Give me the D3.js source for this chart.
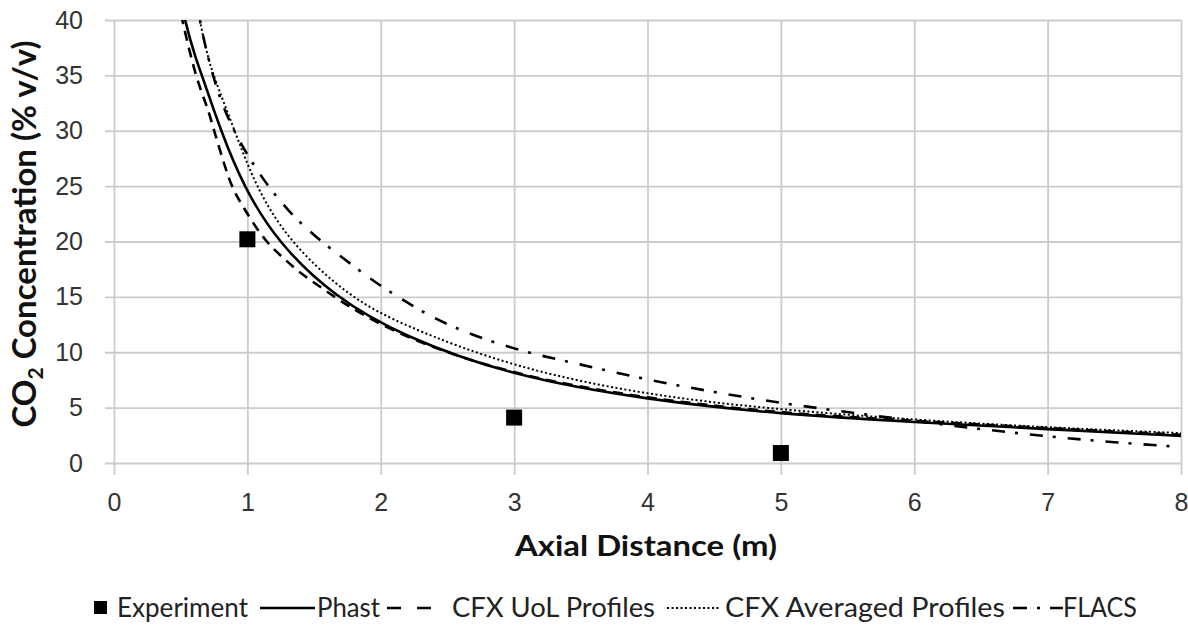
<!DOCTYPE html>
<html>
<head>
<meta charset="utf-8">
<script src="https://cdn.jsdelivr.net/npm/d3@7"></script>
<style>
  html, body { margin: 0; padding: 0; background: #fff; }
  svg { display: block; font-family: Lato, "Open Sans", sans-serif; }
</style>
</head>
<body>
<svg id="chart" width="1188" height="625"></svg>
<script>
// ---- Data ----
const xTicks = [0, 1, 2, 3, 4, 5, 6, 7, 8];
const yTicks = [0, 5, 10, 15, 20, 25, 30, 35, 40];

const experimentX = [1, 3, 5];
const experimentY = [20.2, 4.1, 0.9];

const phastX = [0.5, 0.53, 0.61, 0.66, 0.8, 0.97, 1.22, 1.65, 2.17, 3, 4, 5, 6, 7, 8];
const phastY = [42, 40, 36.6, 35, 30, 25, 20, 15, 11.4, 7.8, 5.7, 4.4, 3.7, 3.05, 2.45];

const cfxUolX = [0.48, 0.51, 0.62, 0.70, 0.75, 0.87, 0.93, 1.02, 1.13, 1.26, 1.40, 1.56, 1.72, 2.17, 3, 4, 5, 6, 7, 8];
const cfxUolY = [42, 40, 34.5, 32.2, 30, 25.2, 23.9, 22.1, 20.1, 18.6, 17.1, 15.8, 14.4, 11.3, 7.9, 5.8, 4.5, 3.8, 3.15, 2.55];

const cfxAvgX = [0.62, 0.64, 0.705, 0.745, 0.905, 1.06, 1.31, 1.76, 2.17, 3, 4, 5, 6, 7, 8];
const cfxAvgY = [42, 40, 36.6, 35, 30, 25, 20, 15, 12.4, 8.6, 6.1, 4.8, 3.9, 3.2, 2.7];

const flacsX = [0.62, 0.64, 0.72, 0.82, 0.96, 1.11, 1.30, 1.51, 1.75, 1.98, 2.25, 2.5, 3, 3.5, 4, 4.5, 5, 5.5, 6, 6.5, 7, 7.5, 8];
const flacsY = [42, 40, 35.8, 31.9, 28.6, 25.7, 22.8, 20.4, 18.2, 16.1, 14.1, 12.4, 10.2, 8.9, 7.5, 6.4, 5.4, 4.6, 3.8, 3.05, 2.4, 1.85, 1.45];

const legendLabels = ["Experiment", "Phast", "CFX UoL Profiles", "CFX Averaged Profiles", "FLACS"];

// ---- Layout ----
const svg = d3.select("#chart");
const x = d3.scaleLinear().domain([0, 8]).range([114, 1181]);
const y = d3.scaleLinear().domain([0, 40]).range([463, 20]);
const gridColor = "#cccccc";

// X axis + vertical grid
const gx = svg.append("g")
  .attr("transform", "translate(0,475)")
  .call(d3.axisBottom(x).tickValues(xTicks).tickSize(-(475 - 20)).tickSizeOuter(0).tickPadding(18).tickFormat(d3.format("d")));
gx.select(".domain").remove();
gx.selectAll(".tick line").attr("stroke", gridColor).attr("stroke-width", 1.8);
gx.selectAll(".tick text").attr("fill", "#333").attr("font-size", 25);

// Y axis + horizontal grid
const gy = svg.append("g")
  .attr("transform", "translate(105,0)")
  .call(d3.axisLeft(y).tickValues(yTicks).tickSize(-(1181 - 105)).tickSizeOuter(0).tickPadding(22).tickFormat(d3.format("d")));
gy.select(".domain").remove();
gy.selectAll(".tick line").attr("stroke", gridColor).attr("stroke-width", 1.8);
gy.selectAll(".tick text").attr("fill", "#333").attr("font-size", 25);

// Clip
svg.append("clipPath").attr("id", "plotclip")
  .append("rect").attr("x", x(0)).attr("y", y(40)).attr("width", x(8) - x(0) + 1).attr("height", y(0) - y(40) + 2);

const lineGen = d3.line().x(d => x(d[0])).y(d => y(d[1])).curve(d3.curveBasis);
const zip = (xs, ys) => xs.map((v, i) => [v, ys[i]]);

const series = [
  { xs: phastX, ys: phastY, dash: null, w: 2.6 },
  { xs: cfxUolX, ys: cfxUolY, dash: "10,7", w: 2.6 },
  { xs: cfxAvgX, ys: cfxAvgY, dash: "2,2.5", w: 2 },
  { xs: flacsX, ys: flacsY, dash: "13,10,3,12", w: 2.6 }
];
const plot = svg.append("g").attr("clip-path", "url(#plotclip)");
series.forEach(s => {
  plot.append("path")
    .datum(zip(s.xs, s.ys))
    .attr("d", lineGen)
    .attr("fill", "none")
    .attr("stroke", "#000")
    .attr("stroke-width", s.w)
    .attr("stroke-dasharray", s.dash);
});

// Experiment markers
const sq = 16;
svg.append("g").selectAll("rect")
  .data(zip(experimentX, experimentY))
  .join("rect")
  .attr("x", d => x(d[0]) - sq / 2)
  .attr("y", d => y(d[1]) - sq / 2)
  .attr("width", sq).attr("height", sq)
  .attr("fill", "#000");

// Axis titles
svg.append("text")
  .attr("x", 646).attr("y", 556)
  .attr("text-anchor", "middle")
  .attr("font-size", 29).attr("font-weight", "bold").attr("fill", "#111")
  .attr("textLength", 262).attr("lengthAdjust", "spacingAndGlyphs")
  .text("Axial Distance (m)");

const yt = svg.append("text")
  .attr("transform", "translate(36,234) rotate(-90)")
  .attr("text-anchor", "middle")
  .attr("font-size", 33).attr("font-weight", "bold").attr("fill", "#111");
yt.append("tspan").text("CO");
yt.append("tspan").attr("font-size", 21).attr("dy", 7).text("2");
yt.append("tspan").attr("dy", -7).text(" Concentration (% v/v)");

// Legend
const lg = svg.append("g").attr("font-size", 27).attr("fill", "#222");
const ly = 608;
lg.append("rect").attr("x", 94).attr("y", ly - 7).attr("width", 13).attr("height", 13).attr("fill", "#000");
const legendText = [
  { t: legendLabels[0], x: 117, w: 131 },
  { t: legendLabels[1], x: 317, w: 63 },
  { t: legendLabels[2], x: 452, w: 203 },
  { t: legendLabels[3], x: 725, w: 280 },
  { t: legendLabels[4], x: 1063, w: 74 }
];
legendText.forEach(d => {
  lg.append("text").attr("x", d.x).attr("y", ly + 9)
    .attr("textLength", d.w).attr("lengthAdjust", "spacingAndGlyphs")
    .text(d.t);
});
const legendLines = [
  { x1: 260, x2: 315, dash: null, w: 2.4 },
  { x1: 387, x2: 431, dash: "14,16", w: 2.4 },
  { x1: 667, x2: 720, dash: "2,2.5", w: 2 },
  { x1: 1013, x2: 1063, dash: "14,10,3,10,13", w: 2.4 }
];
legendLines.forEach(l => {
  lg.append("line").attr("x1", l.x1).attr("x2", l.x2).attr("y1", ly).attr("y2", ly)
    .attr("stroke", "#000").attr("stroke-width", l.w).attr("stroke-dasharray", l.dash);
});
</script>
</body>
</html>
